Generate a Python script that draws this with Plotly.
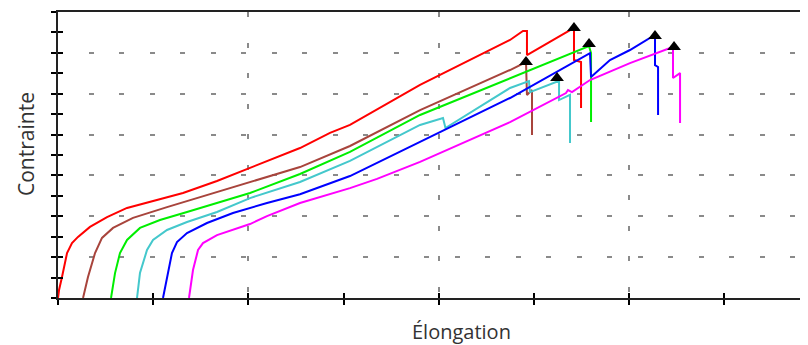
import plotly.graph_objects as go

# ---- data (elongation units: 1 = one x tick; stress units: 1 = one y tick) ----
red_x = [0, 0.011, 0.042, 0.095, 0.147, 0.210, 0.336, 0.515, 0.725, 0.966, 1.313, 1.670, 2.017, 2.542,
         2.857, 3.067, 3.803, 4.748, 4.884, 4.926, 4.926, 5.399, 5.420, 5.420, 5.494, 5.494]
red_y = [0, 0.39, 1.03, 2.20, 2.69, 2.99, 3.48, 3.96, 4.41, 4.70, 5.14, 5.73, 6.36, 7.34,
         8.08, 8.47, 10.43, 12.63, 13.07, 13.07, 11.89, 13.17, 13.22, 11.65, 11.55, 9.30]

brown_x = [0.263, 0.315, 0.389, 0.462, 0.578, 0.788, 1.145, 1.492, 1.838, 2.195, 2.542, 3.067, 3.803,
           4.748, 4.916, 4.926, 4.979, 4.979]
brown_y = [0, 1.03, 2.20, 2.94, 3.43, 3.92, 4.45, 4.94, 5.43, 5.92, 6.41, 7.44, 9.20,
           11.16, 11.55, 9.94, 10.18, 7.98]

green_x = [0.557, 0.599, 0.651, 0.725, 0.861, 1.071, 1.355, 1.670, 2.017, 2.542, 3.067, 3.803,
           4.748, 5.536, 5.578, 5.599, 5.599]
green_y = [0, 1.22, 2.20, 2.84, 3.43, 3.82, 4.21, 4.65, 5.14, 6.07, 7.15, 8.96,
           10.77, 12.24, 12.33, 11.99, 8.61]

cyan_x = [0.830, 0.861, 0.935, 0.998, 1.145, 1.355, 1.670, 2.017, 2.542, 3.067, 3.803, 4.044, 4.070,
          4.748, 4.947, 4.958, 5.231, 5.263, 5.263, 5.378, 5.378]
cyan_y = [0, 1.22, 2.35, 2.84, 3.33, 3.72, 4.21, 4.89, 5.68, 6.71, 8.47, 8.81, 8.32,
          10.28, 10.62, 10.08, 10.57, 10.57, 9.69, 9.94, 7.59]

blue_x = [1.103, 1.145, 1.197, 1.250, 1.355, 1.565, 1.838, 2.195, 2.542, 3.067, 3.803, 4.748, 5.588,
          5.599, 5.798, 6.008, 6.218, 6.271, 6.271, 6.303, 6.303]
blue_y = [0, 1.03, 2.20, 2.74, 3.18, 3.67, 4.16, 4.65, 5.08, 5.97, 7.63, 9.79, 11.99,
          10.82, 11.65, 12.14, 12.73, 12.78, 11.40, 11.31, 8.96]

magenta_x = [1.376, 1.418, 1.471, 1.523, 1.670, 1.912, 2.017, 2.195, 2.542, 3.067, 3.351, 3.803,
             4.748, 5.336, 5.357, 5.399, 5.588, 6.008, 6.429, 6.460, 6.460, 6.534, 6.534]
magenta_y = [0, 1.37, 2.35, 2.69, 3.08, 3.48, 3.62, 4.01, 4.65, 5.38, 5.83, 6.66,
             8.61, 10.03, 10.18, 10.08, 10.67, 11.50, 12.24, 12.24, 10.77, 11.01, 8.57]

# rupture points (black triangles)
peak_x = [5.420, 4.916, 5.578, 5.242, 6.271, 6.471]
peak_y = [13.22, 11.55, 12.43, 10.77, 12.82, 12.29]

series = [
    (red_x, red_y, "#ff0000"),
    (brown_x, brown_y, "#a8443c"),
    (green_x, green_y, "#00ee00"),
    (cyan_x, cyan_y, "#44c8cc"),
    (blue_x, blue_y, "#0000ff"),
    (magenta_x, magenta_y, "#ff00ff"),
]

X_MAX = 7.878
Y_MAX = 14

fig = go.Figure()
for xs, ys, col in series:
    fig.add_trace(go.Scatter(x=xs, y=ys, mode="lines",
                             line=dict(color=col, width=2), hoverinfo="skip"))
fig.add_trace(go.Scatter(x=peak_x, y=peak_y, mode="markers",
                         marker=dict(symbol="triangle-up", size=12, color="black"),
                         hoverinfo="skip"))
# dummy trace for overlay axes (inside tick marks)
fig.add_trace(go.Scatter(x=[None], y=[None], xaxis="x2", yaxis="y2", hoverinfo="skip"))

grid = dict(showgrid=True, gridcolor="#8a8a8a", gridwidth=2, griddash="5px,25.5px")

# the page body has an 8px margin, so the figure is offset by 8px
fig.update_layout(
    width=800, height=337,
    margin=dict(l=50, r=0, t=4, b=47),
    paper_bgcolor="white", plot_bgcolor="white",
    showlegend=False,
    xaxis=dict(range=[0, X_MAX], tick0=0, dtick=2, **grid,
               ticks="outside", ticklen=5, tickwidth=2, tickcolor="black",
               minor=dict(dtick=1, tick0=0, ticks="outside", ticklen=5, tickwidth=2,
                          tickcolor="black", showgrid=False),
               showticklabels=False, zeroline=False,
               showline=True, linecolor="#222222", linewidth=2, mirror=True),
    yaxis=dict(range=[0, Y_MAX], tick0=0, dtick=2, **grid,
               ticks="outside", ticklen=5, tickwidth=2, tickcolor="black",
               minor=dict(dtick=1, tick0=0, ticks="outside", ticklen=5, tickwidth=2,
                          tickcolor="black", showgrid=False),
               showticklabels=False, zeroline=False,
               showline=True, linecolor="#222222", linewidth=2),
    xaxis2=dict(range=[0, X_MAX], overlaying="x", anchor="y", tick0=0, dtick=1,
                ticks="inside", ticklen=5, tickwidth=2, tickcolor="black",
                showgrid=False, showline=False, zeroline=False, showticklabels=False),
    yaxis2=dict(range=[0, Y_MAX], overlaying="y", anchor="x", tick0=0, dtick=1,
                ticks="inside", ticklen=5, tickwidth=2, tickcolor="black",
                showgrid=False, showline=False, zeroline=False, showticklabels=False),
    annotations=[
        dict(text="Élongation", xref="paper", yref="paper", x=(462 - 58) / 750, y=(298 - 331) / 286,
             xanchor="center", yanchor="middle", showarrow=False,
             font=dict(family="Open Sans", size=20, color="#333333")),
        dict(text="Contrainte", xref="paper", yref="paper", x=(26 - 58) / 750, y=(298 - 144) / 286,
             xanchor="center", yanchor="middle", showarrow=False, textangle=-90,
             font=dict(family="Open Sans", size=21, color="#333333")),
    ],
)

fig.write_html("out.html")
